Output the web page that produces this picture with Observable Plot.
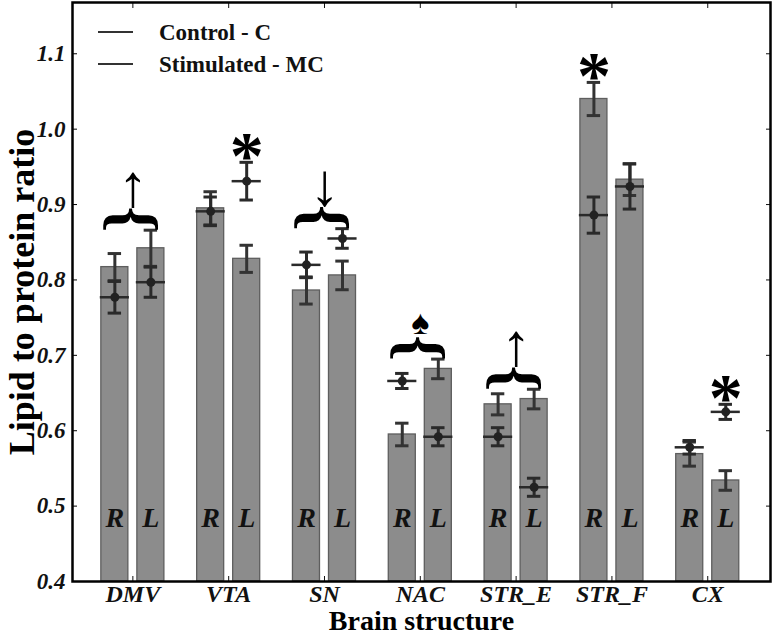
<!DOCTYPE html>
<html><head><meta charset="utf-8">
<script src="https://cdn.jsdelivr.net/npm/d3@7"></script>
<script src="https://cdn.jsdelivr.net/npm/@observablehq/plot@0.6"></script>
<style>
body{margin:0;background:#fff}
#chart{width:774px;height:641px}
</style>
</head><body><div id="chart"></div>
<script>
// ---- data ----
const regions = ["DMV", "VTA", "SN", "NAC", "STR_E", "STR_F", "CX"];
const sides = ["R", "L"];
const seriesNames = ["Control - C", "Stimulated - MC"];

// bars (Control - C)
const controlR    = [0.817, 0.895, 0.786, 0.595, 0.635, 1.040, 0.569];
const controlRErr = [0.018, 0.022, 0.018, 0.015, 0.014, 0.022, 0.016];
const controlL    = [0.842, 0.828, 0.806, 0.682, 0.642, 0.933, 0.534];
const controlLErr = [0.024, 0.018, 0.019, 0.013, 0.013, 0.021, 0.013];
// points (Stimulated - MC)
const stimR    = [0.777, 0.891, 0.820, 0.666, 0.592, 0.886, 0.578];
const stimRErr = [0.021, 0.019, 0.017, 0.010, 0.012, 0.024, 0.009];
const stimL    = [0.797, 0.931, 0.855, 0.592, 0.525, 0.924, 0.625];
const stimLErr = [0.020, 0.025, 0.013, 0.012, 0.012, 0.030, 0.010];

const yTicks = [0.4, 0.5, 0.6, 0.7, 0.8, 0.9, 1.0, 1.1];

// significance annotations
const groupRegions = ["DMV", "SN", "NAC", "STR_E"];
const groupSymbols = ["\u2191", "\u2193", "\u2660", "\u2191"];
const starRegions = ["VTA", "STR_F", "CX"];
const starSides = ["L", "R", "L"];

// ---- layout ----
const W = 774, H = 641;
const serif = "'Liberation Serif', 'Times New Roman', serif";
const yDomain = [0.4, 1.168];
const sideOffset = 0.188, barHalf = 0.141, capHalf = 0.07, pointHalf = 0.152;

const rows = regions.flatMap((region, i) => sides.map(side => ({
  region, i, side,
  pos: i + (side === "R" ? -sideOffset : sideOffset),
  control: side === "R" ? controlR[i] : controlL[i],
  controlErr: side === "R" ? controlRErr[i] : controlLErr[i],
  stim: side === "R" ? stimR[i] : stimL[i],
  stimErr: side === "R" ? stimRErr[i] : stimLErr[i]
})));
rows.forEach(d => d.top = Math.max(d.control + d.controlErr, d.stim + d.stimErr));

const caps = (key, errKey) => rows.flatMap(d => [
  {pos: d.pos, v: d[key] - d[errKey]}, {pos: d.pos, v: d[key] + d[errKey]}
]);

const groupAnn = groupRegions.map((region, k) => {
  const i = regions.indexOf(region);
  const top = d3.max(rows.filter(d => d.i === i), d => d.top);
  return {region, i, top, symbol: groupSymbols[k]};
});
const starAnn = starRegions.map((region, k) => rows.find(d => d.region === region && d.side === starSides[k]));

const legendMark = (index, scales, values, dim) => {
  const g = d3.create("svg:g");
  seriesNames.forEach((name, k) => {
    const y = dim.marginTop + 30 + k * 32;
    g.append("line").attr("x1", dim.marginLeft + 26).attr("x2", dim.marginLeft + 61)
      .attr("y1", y).attr("y2", y).attr("stroke", "#333").attr("stroke-width", 2);
    g.append("text").attr("x", dim.marginLeft + 87).attr("y", y).attr("dy", "0.35em")
      .attr("text-anchor", "start")
      .attr("font-family", serif).attr("font-weight", "bold").attr("font-size", 23)
      .attr("fill", "#111").text(name);
  });
  return g.node();
};

const chart = Plot.plot({
  width: W, height: H,
  marginTop: 2, marginRight: 4, marginBottom: 60, marginLeft: 72,
  style: {fontFamily: serif, background: "#fff", color: "#111"},
  x: {type: "linear", domain: [-0.63, 6.655], axis: null},
  y: {domain: yDomain, axis: null},
  marks: [
    // bars
    Plot.rectY(rows, {x1: d => d.pos - barHalf, x2: d => d.pos + barHalf, y1: yDomain[0], y2: "control",
      fill: "#8c8c8c", stroke: "#5e5e5e", strokeWidth: 1.3}),
    // bar error bars
    Plot.ruleX(rows, {x: "pos", y1: d => d.control - d.controlErr, y2: d => d.control + d.controlErr, stroke: "#333", strokeWidth: 3}),
    Plot.ruleY(caps("control", "controlErr"), {y: "v", x1: d => d.pos - capHalf, x2: d => d.pos + capHalf, stroke: "#333", strokeWidth: 3}),
    // point error bars
    Plot.ruleX(rows, {x: "pos", y1: d => d.stim - d.stimErr, y2: d => d.stim + d.stimErr, stroke: "#2a2a2a", strokeWidth: 3}),
    Plot.ruleY(caps("stim", "stimErr"), {y: "v", x1: d => d.pos - capHalf, x2: d => d.pos + capHalf, stroke: "#2a2a2a", strokeWidth: 3}),
    Plot.ruleY(rows, {y: "stim", x1: d => d.pos - pointHalf, x2: d => d.pos + pointHalf, stroke: "#2a2a2a", strokeWidth: 2.5}),
    Plot.dot(rows, {x: "pos", y: "stim", r: 4.5, fill: "#222", stroke: "none"}),
    // R / L labels
    Plot.text(rows, {x: "pos", text: "side", frameAnchor: "bottom", dy: -55, fontSize: 28, fontWeight: "bold", fontStyle: "italic", fill: "#111"}),
    // braces and group symbols
    Plot.text(groupAnn, {x: "i", y: "top", text: () => "{", rotate: 90, dy: -11, fontSize: 66, fontWeight: "bold", fill: "#000"}),
    Plot.text(groupAnn.filter(d => d.symbol !== "\u2660"), {x: "i", y: "top", text: "symbol", dy: -43, fontSize: 60, fill: "#000"}),
    Plot.text(groupAnn.filter(d => d.symbol === "\u2660"), {x: "i", y: "top", text: "symbol", dy: -36, fontSize: 34, fill: "#000"}),
    // asterisks
    Plot.text(starAnn, {x: "pos", y: "top", text: () => "*", dy: -6, fontSize: 68, fontWeight: "bold", fill: "#000"}),
    // axes
    Plot.axisY({anchor: "left", ticks: yTicks, tickSize: -5, tickPadding: 12, tickFormat: d3.format(".1f"),
      fontSize: 23, fontWeight: "bold", fontStyle: "italic", label: null, stroke: "#000"}),
    Plot.axisY({anchor: "right", ticks: yTicks, tickSize: -5, tickFormat: () => "", label: null}),
    Plot.axisX({anchor: "bottom", ticks: d3.range(regions.length), tickSize: -5, tickPadding: 8, tickFormat: i => regions[i],
      fontSize: 24, fontWeight: "bold", fontStyle: "italic", label: null}),
    Plot.axisX({anchor: "top", ticks: d3.range(regions.length), tickSize: -5, tickFormat: () => "", label: null}),
    Plot.frame({stroke: "#000", strokeWidth: 2.5}),
    // axis titles
    Plot.text(["Brain structure"], {frameAnchor: "bottom", dy: 48, fontSize: 28, fontWeight: "bold", fill: "#000"}),
    Plot.text(["Lipid to protein ratio"], {frameAnchor: "left", textAnchor: "middle", dx: -50, rotate: -90, fontSize: 36, fontWeight: "bold", fill: "#000"}),
    legendMark
  ]
});
document.getElementById("chart").append(chart);
</script>
</body></html>
